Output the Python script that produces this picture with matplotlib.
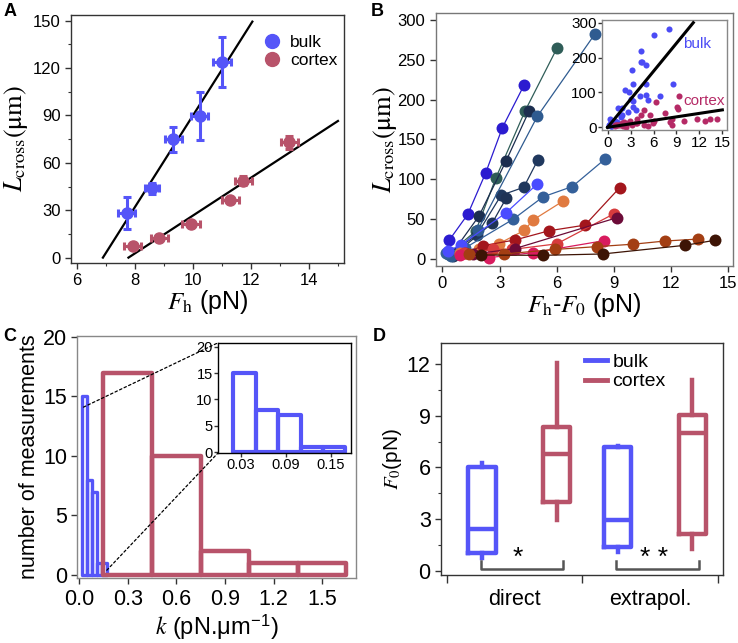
import numpy as np
import matplotlib
matplotlib.use("Agg")
import matplotlib.pyplot as plt
from matplotlib.patches import ConnectionPatch
from matplotlib.lines import Line2D

plt.rcParams['font.family'] = ['Liberation Sans', 'DejaVu Sans']
plt.rcParams['mathtext.fontset'] = 'stix'

BLUE = '#5555f8'
RED = '#b8536a'

# --- panel A: L_cross vs F_h (mean +- err)
bulk_F = [7.71, 8.58, 9.32, 10.22, 10.99]
bulk_L = [28.1, 43.9, 74.9, 89.7, 123.7]
bulk_Ferr = [0.3, 0.25, 0.3, 0.3, 0.3]
bulk_Lerr = [10, 3.4, 8, 15, 16]
cortex_F = [7.91, 8.83, 9.93, 11.28, 11.73, 13.31]
cortex_L = [7.6, 12.7, 21.5, 36.3, 48.7, 73.0]
cortex_Ferr = [0.3, 0.3, 0.3, 0.3, 0.3, 0.3]
cortex_Lerr = [1.5, 1.5, 1.5, 1.5, 3, 4]
fit_bulk_x = [6.89, 12.04]
fit_bulk_y = [0, 149.4]
fit_cortex_x = [7.77, 14.99]
fit_cortex_y = [0, 86.5]

# --- panel B: individual experiments (F_h - F_0, L_cross)
B_series = [
    # (x, y, color, group)
    ([0.37, 1.33, 2.27, 3.15, 4.30], [24, 56, 108, 165, 219], '#2b1bd0', 'bulk'),
    ([0.30, 1.75, 2.81, 4.34, 6.02], [6, 35, 102, 186, 265], '#2f5d58', 'bulk'),
    ([0.45, 1.92, 3.34, 4.55], [5, 54, 123, 186], '#1c2e4f', 'bulk'),
    ([0.50, 1.80, 3.08, 4.27, 5.00], [8, 30, 80, 90, 124], '#20385e', 'bulk'),
    ([0.55, 2.61, 3.34], [4, 45, 76], '#1f3356', 'bulk'),
    ([0.46, 1.85, 4.98, 7.99], [4, 36, 179, 282], '#2f5b90', 'bulk'),
    ([0.19, 1.20, 3.72, 5.28, 6.82, 8.51], [8, 14, 50, 78, 91, 125], '#34609a', 'bulk'),
    ([0.30, 0.98, 3.34, 4.97], [10, 17.6, 58, 94], '#4a4cff', 'bulk'),
    ([0.90, 1.90, 2.95, 4.30, 4.76, 6.35], [8, 13, 19, 36, 49, 73], '#e07a40', 'cortex'),
    ([1.20, 2.12, 3.83, 5.60, 7.48, 9.30], [7, 16.7, 24, 35.5, 42.5, 89.5], '#a3161c', 'cortex'),
    ([1.15, 2.67, 3.65, 6.00, 9.02], [7, 12, 12, 19, 57], '#d63b3d', 'cortex'),
    ([1.60, 3.80, 9.18], [6, 13, 52], '#6c0b38', 'cortex'),
    ([0.90, 2.43, 4.77, 8.48], [5, 1.7, 8, 23], '#d81b5e', 'cortex'),
    ([1.42, 3.25, 5.91, 8.09, 10.02, 11.70, 13.41], [6, 6.3, 12, 15.5, 18.6, 22.6, 25], '#a33e13', 'cortex'),
    ([2.00, 5.26, 8.41, 12.73, 14.30], [5, 4.6, 6.3, 17.2, 23.5], '#3d1405', 'cortex'),
]
inset_fit_bulk = ([0, 11.2], [0, 300])
inset_fit_cortex = ([0, 15.0], [0, 50])

# --- panel C: stiffness histograms
k_bulk_edges = [0.02, 0.05, 0.08, 0.11, 0.14, 0.17]
k_bulk_counts = [15, 8, 7, 1, 1]
k_cortex_edges = [0.15, 0.45, 0.75, 1.05, 1.35, 1.65]
k_cortex_counts = [17, 10, 2, 1, 1]

# --- panel D: F_0 box plots
groups = ['direct', 'extrapol.']
kinds = ['bulk', 'cortex']
whislo = [[0.72, 2.94], [1.06, 1.26]]
q1 = [[1.0, 4.0], [1.39, 2.11]]
med = [[2.40, 6.75], [2.94, 7.97]]
q3 = [[6.04, 8.32], [7.16, 9.04]]
whishi = [[6.23, 12.04], [7.24, 11.07]]
signif = ['*', '* *']

fig = plt.figure(figsize=(7.38, 6.43), dpi=100)


def style(ax, color='#333333', size=12):
    for s in ax.spines.values():
        s.set_color(color)
        s.set_linewidth(1.0)
    ax.tick_params(direction='out', labelsize=size, length=4, width=1, color='#333333')
    ax.tick_params(which='minor', direction='out', length=2.5, width=0.8, color='#333333')


LCROSS = r'$L_{\rm cross}\mathrm{(μm)}$'

# ---------- A
axA = fig.add_axes([0.0962, 0.591, 0.370, 0.3857])
axA.plot(fit_bulk_x, fit_bulk_y, color='black', lw=1.6, zorder=1)
axA.plot(fit_cortex_x, fit_cortex_y, color='black', lw=1.6, zorder=1)
axA.errorbar(bulk_F, bulk_L, xerr=bulk_Ferr, yerr=bulk_Lerr, fmt='o', color=BLUE,
             ms=8, elinewidth=2.2, capsize=3, capthick=2.2, label='bulk', zorder=2)
axA.errorbar(cortex_F, cortex_L, xerr=cortex_Ferr, yerr=cortex_Lerr, fmt='o', color=RED,
             ms=8, elinewidth=2.2, capsize=3, capthick=2.2, label='cortex', zorder=2)
axA.set_xlim(5.79, 15.2)
axA.set_ylim(-3.4, 153.6)
axA.set_xticks([6, 8, 10, 12, 14])
axA.set_xticks([7, 9, 11, 13, 15], minor=True)
axA.set_yticks([0, 30, 60, 90, 120, 150])
axA.set_yticks([15, 45, 75, 105, 135], minor=True)
style(axA)
axA.set_xlabel(r'$F_{\rm h}$ (pN)', fontsize=18, labelpad=0)
axA.set_ylabel(LCROSS, fontsize=19, labelpad=2)
hA = [Line2D([], [], marker='o', ls='', color=c, ms=10) for c in (BLUE, RED)]
axA.legend(hA, ['bulk', 'cortex'], loc='upper right', frameon=False, fontsize=12.5,
           handletextpad=0.05, borderaxespad=0.3, labelspacing=0.2, bbox_to_anchor=(1.02, 0.97))

# ---------- B
axB = fig.add_axes([0.5904, 0.5868, 0.4024, 0.3925])
for x, y, c, g in B_series:
    axB.plot(x, y, '-o', color=c, lw=0.9, ms=8.6, mec='none')
axB.set_xlim(-0.35, 15.23)
axB.set_ylim(-8.4, 308.4)
axB.set_xticks([0, 3, 6, 9, 12, 15])
axB.set_yticks([0, 50, 100, 150, 200, 250, 300])
style(axB, color='#777777')
axB.set_xlabel(r'$F_{\rm h}$-$F_0$ (pN)', fontsize=18, labelpad=0)
axB.set_ylabel(LCROSS, fontsize=19, labelpad=-1)

axBi = fig.add_axes([0.8161, 0.7978, 0.1686, 0.1711])
for x, y, c, g in B_series:
    axBi.plot(x, y, 'o', color='#4b4bf5' if g == 'bulk' else '#b52a66', ms=4.4, mec='none', zorder=2)
axBi.plot(*inset_fit_bulk, color='black', lw=2.2, zorder=3)
axBi.plot(*inset_fit_cortex, color='black', lw=2.2, zorder=3)
axBi.text(9.9, 240, 'bulk', color='#4b4bf5', fontsize=11, va='center')
axBi.text(9.9, 76, 'cortex', color='#b52a66', fontsize=11, va='center')
axBi.set_xlim(-0.7, 15.57)
axBi.set_ylim(-7.7, 307.7)
axBi.set_xticks([0, 3, 6, 9, 12, 15])
axBi.set_yticks([0, 100, 200, 300])
style(axBi, color='#888888', size=11)
axBi.tick_params(pad=1, length=3)

# ---------- C
axC = fig.add_axes([0.105, 0.1006, 0.378, 0.3773])


def hist_outline(ax, edges, counts, color, lw):
    edges = np.asarray(edges)
    ax.bar(edges[:-1], counts, width=np.diff(edges), align='edge', fill=False,
           edgecolor=color, linewidth=lw, joinstyle='round')


hist_outline(axC, k_bulk_edges, k_bulk_counts, BLUE, 2.4)
hist_outline(axC, k_cortex_edges, k_cortex_counts, RED, 3.2)
axC.set_xlim(-0.01, 1.712)
axC.set_ylim(-0.28, 20.1)
axC.set_xticks([0.0, 0.3, 0.6, 0.9, 1.2, 1.5])
axC.set_xticklabels(['0.0', '0.3', '0.6', '0.9', '1.2', '1.5'])
axC.set_yticks([0, 5, 10, 15, 20])
style(axC, color='#888888', size=15.5)
axC.set_xlabel(r'$k$ (pN.$\mathregular{\mu}$m$^{\mathregular{-1}}$)', fontsize=17, labelpad=2)
axC.set_ylabel('number of measurements', fontsize=15.5, labelpad=2)

axCi = fig.add_axes([0.2958, 0.2960, 0.1794, 0.1711])
hist_outline(axCi, k_bulk_edges, k_bulk_counts, BLUE, 3.0)
axCi.set_xlim(0.0, 0.177)
axCi.set_ylim(-0.1, 20.76)
axCi.set_xticks([0.03, 0.09, 0.15])
axCi.set_xticklabels(['0.03', '0.09', '0.15'])
axCi.set_yticks([0, 5, 10, 15, 20])
style(axCi, color='black', size=10.5)
axCi.tick_params(pad=1, length=3)

for xa, ya, xb, yb in [(0.027, 14.1, 0, 1), (0.171, 0.4, 0, 0)]:
    con = ConnectionPatch(xyA=(xa, ya), coordsA=axC.transData, xyB=(xb, yb),
                          coordsB=axCi.transAxes, ls=(0, (2, 2)), lw=0.9, color='black')
    fig.add_artist(con)

# ---------- D
axD = fig.add_axes([0.5976, 0.1058, 0.3817, 0.3613])
colors = {'bulk': BLUE, 'cortex': RED}
offsets = {'bulk': -0.26, 'cortex': 0.29}
for i, g in enumerate(groups):
    for j, kd in enumerate(kinds):
        st = dict(med=med[i][j], q1=q1[i][j], q3=q3[i][j],
                  whislo=whislo[i][j], whishi=whishi[i][j], fliers=[])
        c = colors[kd]
        axD.bxp([st], positions=[i + 0.52 + offsets[kd]], widths=0.2, showcaps=False,
                boxprops=dict(color=c, lw=3.2), medianprops=dict(color=c, lw=3.2),
                whiskerprops=dict(color=c, lw=3.2), manage_ticks=False)
    x0, x1 = i + 0.25, i + 0.86
    axD.plot([x0, x0, x1, x1], [0.55, 0.1, 0.1, 0.55], color='#555555', lw=1.8)
    axD.text((x0 + x1) / 2 - 0.03, 0.05, signif[i], ha='center', va='bottom', fontsize=19)
axD.set_xlim(-0.042, 2.033)
axD.set_ylim(-0.25, 13.24)
axD.set_xticks([0, 1, 2])
axD.set_xticklabels([])
axD.set_xticks([0.5, 1.5], minor=True)
axD.set_xticklabels(groups, minor=True)
axD.set_yticks([0, 3, 6, 9, 12])
axD.set_yticks([1.5, 4.5, 7.5, 10.5], minor=True)
style(axD, size=15.5)
axD.tick_params(axis='x', which='minor', length=0, pad=10, labelsize=15.5)
axD.tick_params(axis='x', which='major', length=6)
axD.set_ylabel(r'$F_0\mathregular{(pN)}$', fontsize=15, labelpad=2)
hD = [Line2D([], [], color=colors[k], lw=3.5) for k in kinds]
axD.legend(hD, kinds, loc='upper right', frameon=False, fontsize=14, handlelength=1.1,
           handletextpad=0.3, labelspacing=0.1, bbox_to_anchor=(0.86, 1.03))

# panel letters
for lab, x, y in [('A', 0.005, 0.995), ('B', 0.503, 0.995), ('C', 0.005, 0.49), ('D', 0.505, 0.49)]:
    fig.text(x, y, lab, fontsize=13, fontweight='bold', va='top', ha='left')

fig.savefig('out.png', dpi=100)
